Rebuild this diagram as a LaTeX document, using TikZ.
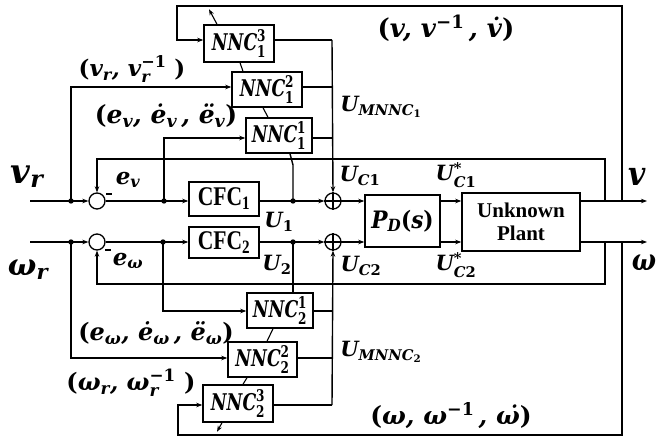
\documentclass[tikz,border=0pt]{standalone}
\usepackage{amsmath,graphicx}
\usepackage{fontspec}
\setmainfont{DejaVu Serif}
\newfontfamily\tnr{Liberation Serif}
\usetikzlibrary{arrows.meta}
\newcommand{\fs}[3]{\scalebox{#2}[1]{\fontsize{#1}{#1}\selectfont\bfseries\itshape #3}}
\newcommand{\sub}[1]{$_{\text{#1}}$}
\newcommand{\sbp}[2]{$_{\text{#1}}^{\text{#2}}$}
\newcommand{\up}[1]{{\upshape #1}}
\begin{document}
\begin{tikzpicture}[x=1pt,y=-1pt,line width=1.4pt,
  >={Stealth[length=6pt,width=4.5pt]},
  box/.style={draw,line width=1.5pt,inner sep=0pt},
  summ/.style={draw,circle,line width=1.3pt,minimum size=16pt,inner sep=0pt},
  lab/.style={inner sep=0pt}]
\useasboundingbox (0,0) rectangle (657,439);
% blocks
\node[box,minimum width=70,minimum height=37] (n13) at (239,43.5) {\fs{23}{0.75}{NNC\sbp{\up{1}}{\up{3}}}};
\node[box,minimum width=70,minimum height=35] (n12) at (267,89.5) {\fs{23}{0.75}{NNC\sbp{\up{1}}{\up{2}}}};
\node[box,minimum width=66,minimum height=35] (n11) at (279,135.5) {\fs{23}{0.75}{NNC\sbp{\up{1}}{\up{1}}}};
\node[box,minimum width=70,minimum height=34] (cfc1) at (224,199) {\scalebox{0.8}[1]{\fontsize{27}{27}\selectfont\tnr\bfseries CFC\sub{1}}};
\node[box,minimum width=70,minimum height=31] (cfc2) at (224,242.5) {\scalebox{0.8}[1]{\fontsize{27}{27}\selectfont\tnr\bfseries CFC\sub{2}}};
\node[box,minimum width=66,minimum height=35] (n21) at (280,310.5) {\fs{23}{0.75}{NNC\sbp{\up{2}}{\up{1}}}};
\node[box,minimum width=69,minimum height=35] (n22) at (262.5,359.5) {\fs{23}{0.75}{NNC\sbp{\up{2}}{\up{2}}}};
\node[box,minimum width=70,minimum height=37] (n23) at (238,403.5) {\fs{23}{0.75}{NNC\sbp{\up{2}}{\up{3}}}};
\node[box,minimum width=75,minimum height=52] (pd) at (402.5,221) {\fs{24}{0.9}{P\sub{D}\up{(}s\up{)}}};
\node[box,minimum width=118,minimum height=58,align=center,font=\fontsize{21}{23}\selectfont\tnr\bfseries] (pl) at (521,222)
  {Unknown\\Plant};
% summing junctions
\node[summ] (s1) at (97,201) {};
\node[summ] (s3) at (97,242) {};
\node[summ] (s2) at (333,201) {};
\node[summ] (s4) at (333,242) {};
\draw[line width=1.1pt] (s2.north) -- (s2.south) (s2.west) -- (s2.east);
\draw[line width=1.1pt] (s4.north) -- (s4.south) (s4.west) -- (s4.east);
% coordinates
\coordinate (vin) at (30,201);
\coordinate (win) at (30,242);
\coordinate (ja) at (71,201);
\coordinate (jb) at (71,242);
\coordinate (jc) at (164,201);
\coordinate (jd) at (163,242);
\coordinate (je) at (293,201);
\coordinate (jf) at (293,242);
\coordinate (vout) at (647,201);
\coordinate (wout) at (647,242);
\coordinate (fv) at (605,201);
\coordinate (fw) at (605,242);
\coordinate (gv) at (622,201);
\coordinate (gw) at (622,242);
\coordinate (m1) at (332,40);
\coordinate (m2) at (332,405);
\coordinate (r12) at (0,87);
\coordinate (r11) at (0,138);
\coordinate (r21) at (0,311);
\coordinate (r22) at (0,358);
% v channel
\draw[->] (vin) -- (s1.west);
\draw[->] (ja) |- (n12.west |- r12);
\draw (s1.east) -- (jc);
\draw[->] (jc) -- (cfc1.west |- jc);
\draw[->] (jc) |- (n11.west |- r11);
\draw (cfc1.east |- je) -- (je);
\draw[->] (je) -- (s2.west);
\draw (je) -- (293,165) -- ([xshift=11pt]n11.south);
\draw[->] (s2.east) -- (pd.west |- s2);
\draw[->] (pd.east |- je) -- (pl.west |- je);
\draw[->] (pl.east |- je) -- (vout);
\draw[->] (fv) -- (605,159) -| (s1.north);
\draw[->] (gv) -- (622,6) -- (177,6) |- (n13.west |- m1);
\draw (n13.east |- m1) -- (m1);
\draw (n12.east |- r12) -- (m1 |- r12);
\draw (n11.east |- r11) -- (m1 |- r11);
\draw[->] (m1) -- (s2.north);
% omega channel
\draw[->] (win) -- (s3.west);
\draw[->] (jb) |- (n22.west |- r22);
\draw (s3.east) -- (jd);
\draw[->] (jd) -- (cfc2.west |- jd);
\draw[->] (jd) |- (n21.west |- r21);
\draw (cfc2.east |- jf) -- (jf);
\draw[->] (jf) -- (s4.west);
\draw (jf) -- (n21.north -| jf);
\draw[->] (s4.east) -- (pd.west |- s4);
\draw[->] (pd.east |- jf) -- (pl.west |- jf);
\draw[->] (pl.east |- jf) -- (wout);
\draw[->] (fw) -- (605,284) -| (s3.south);
\draw[->] (gw) -- (622,435) -- (178,435) |- (n23.west |- m2);
\draw (n23.east |- m2) -- (m2);
\draw (n22.east |- r22) -- (m2 |- r22);
\draw (n21.east |- r21) -- (m2 |- r21);
\draw[->] (m2) -- (s4.south);
% links between NNC blocks
\draw[line width=1.1pt] ([xshift=1pt]n13.south) -- ([xshift=-24pt]n12.north);
\draw[line width=1.1pt] ([xshift=-4pt]n12.south) -- ([xshift=-11pt]n11.north);
\draw[line width=1.1pt] ([xshift=-7pt]n21.south) -- ([xshift=4.5pt]n22.north);
\draw[line width=1.1pt] ([xshift=-15.5pt]n22.south) -- ([xshift=5pt]n23.north);
\draw[line width=1.1pt,->] ([xshift=-22pt]n13.north) -- ++(-8,-15);
\draw[line width=1.1pt,->] ([xshift=-16pt]n23.south) -- ++(-5,9);
% dots
\foreach \p in {ja,jb,jc,jd,je,jf} \fill (\p) circle (2.7);
% minus signs
\draw[line width=1.1pt] (106,194) -- (112,194);
\draw[line width=1.1pt] (105,250) -- (111,250);
% labels
\node[lab] (lvr) at (27,177) {\fs{34}{1}{v\sub{r}}};
\node[lab] (lwr) at (28,270) {\fs{30}{1}{ω\sub{r}}};
\node[lab] (lv) at (637,177) {\fs{33}{0.9}{v}};
\node[lab] (lw) at (644,263) {\fs{30}{0.85}{ω}};
\node[lab] (lev) at (128,180) {\fs{23}{1}{e\sub{v}}};
\node[lab] (lew) at (128,261) {\fs{23}{1}{e\sub{ω}}};
\node[lab] (lu1) at (279,222) {\fs{21}{1}{U\sub{\up{1}}}};
\node[lab] (lu2) at (277,265) {\fs{21}{1}{U\sub{\up{2}}}};
\node[lab] (luc1) at (360,176) {\fs{21}{1}{U\sub{C\up{1}}}};
\node[lab] (luc2) at (361,266) {\fs{21}{1}{U\sub{C\up{2}}}};
\node[lab] (lus1) at (456,175) {\fs{21}{1}{U\sbp{C\up{1}}{\up{*}}}};
\node[lab] (lus2) at (456,265) {\fs{21}{1}{U\sbp{C\up{2}}{\up{*}}}};
\node[lab] (lm1) at (381,107) {\fs{21}{1}{U\sub{MNNC\sub{\up{1}}}}};
\node[lab] (lm2) at (381,352) {\fs{21}{1}{U\sub{MNNC\sub{\up{2}}}}};
\node[lab] (t1) at (132,69) {\fs{23}{1}{\up{(}v\sub{r}, v\sbp{r}{\up{−1}}\ \up{)}}};
\node[lab] (t2) at (166,116) {\fs{25}{1}{\up{(}e\sub{v}, ė\sub{v}\,, ë\sub{v}\up{)}}};
\node[lab] (t3) at (446,28) {\fs{26}{1}{\up{(}v, v\textsuperscript{\up{−1}}\,, v̇\up{)}}};
\node[lab] (t4) at (156,333) {\fs{24}{1}{\up{(}e\sub{ω}, ė\sub{ω}\,, ë\sub{ω}\up{)}}};
\node[lab] (t5) at (131,383) {\fs{24}{1}{\up{(}ω\sub{r}, ω\sbp{r}{\up{−1}}\ \up{)}}};
\node[lab] (t6) at (451,416) {\fs{25}{1}{\up{(}ω, ω\textsuperscript{\up{−1}}\,, ω̇\up{)}}};
\end{tikzpicture}
\end{document}
